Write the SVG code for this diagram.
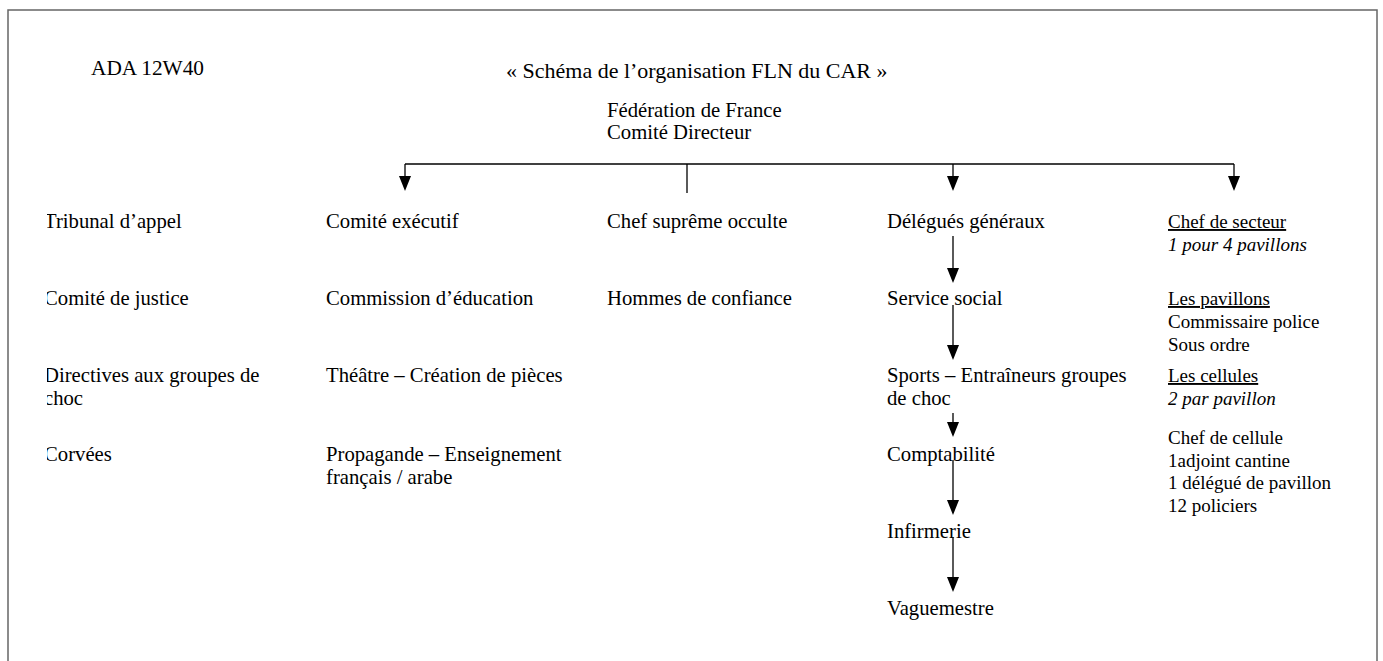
<svg xmlns="http://www.w3.org/2000/svg" width="1383" height="661" viewBox="0 0 1383 661">
<defs>
<style>
text{font-family:"Liberation Serif","Times New Roman",serif;fill:#000;font-size:20.7px}
.title{font-size:22px}
.hdr{font-size:21.3px}
.rc text{font-size:19px}
.it{font-style:italic}
.ul{text-decoration:underline}
.ln{stroke:#000;stroke-width:1.3;fill:none}
</style>
<clipPath id="lc"><rect x="47" y="0" width="300" height="661"/></clipPath>
</defs>
<rect x="8" y="10" width="1369" height="700" fill="#fff" stroke="#666" stroke-width="1.5"/>
<g id="header">
<text class="hdr" x="91" y="75">ADA 12W40</text>
<text class="title" x="506" y="78">« Schéma de l’organisation FLN du CAR »</text>
</g>
<g id="federation"><text x="607" y="117">Fédération de France</text><text x="607" y="139">Comité Directeur</text></g>
<g id="connectors">
<path class="ln" d="M405,164 H1234"/>
<path class="ln" d="M405,164 V176" />
<path d="M399,176 L411,176 L405,191 Z"/>
<path class="ln" d="M687,164 V193"/>
<path class="ln" d="M953,164 V176"/>
<path d="M947,176 L959,176 L953,191 Z"/>
<path class="ln" d="M1234,164 V176"/>
<path d="M1228,176 L1240,176 L1234,191 Z"/>
<path class="ln" d="M953,236 V268"/><path d="M947,268 L959,268 L953,283 Z"/>
<path class="ln" d="M953,305 V345"/><path d="M947,345 L959,345 L953,360 Z"/>
<path class="ln" d="M953,413 V422"/><path d="M947,422 L959,422 L953,437 Z"/>
<path class="ln" d="M953,460 V500"/><path d="M947,500 L959,500 L953,515 Z"/>
<path class="ln" d="M953,537 V577"/><path d="M947,577 L959,577 L953,592 Z"/>
</g>
<g id="col-justice" clip-path="url(#lc)">
<text x="44" y="228">Tribunal d’appel</text>
<text x="44" y="305">Comité de justice</text>
<text x="44" y="382">Directives aux groupes de</text>
<text x="44" y="405">choc</text>
<text x="44" y="461">Corvées</text>
</g>
<g id="col-executif">
<text x="326" y="228">Comité exécutif</text>
<text x="326" y="305">Commission d’éducation</text>
<text x="326" y="382">Théâtre – Création de pièces</text>
<text x="326" y="461">Propagande – Enseignement</text>
<text x="326" y="484">français / arabe</text>
</g>
<g id="col-chef">
<text x="607" y="228">Chef suprême occulte</text>
<text x="607" y="305">Hommes de confiance</text>
</g>
<g id="col-delegues">
<text x="887" y="228">Délégués généraux</text>
<text x="887" y="305">Service social</text>
<text x="887" y="382">Sports – Entraîneurs groupes</text>
<text x="887" y="405">de choc</text>
<text x="887" y="461">Comptabilité</text>
<text x="887" y="538">Infirmerie</text>
<text x="887" y="615">Vaguemestre</text>
</g>
<g id="col-secteur" class="rc">
<text class="ul" x="1168" y="228">Chef de secteur</text>
<text class="it" x="1168" y="251">1 pour 4 pavillons</text>
<text class="ul" x="1168" y="305">Les pavillons</text>
<text x="1168" y="328">Commissaire police</text>
<text x="1168" y="351">Sous ordre</text>
<text class="ul" x="1168" y="382">Les cellules</text>
<text class="it" x="1168" y="405">2 par pavillon</text>
<text x="1168" y="444">Chef de cellule</text>
<text x="1168" y="467">1adjoint cantine</text>
<text x="1168" y="489">1 délégué de pavillon</text>
<text x="1168" y="512">12 policiers</text>
</g>
</svg>
